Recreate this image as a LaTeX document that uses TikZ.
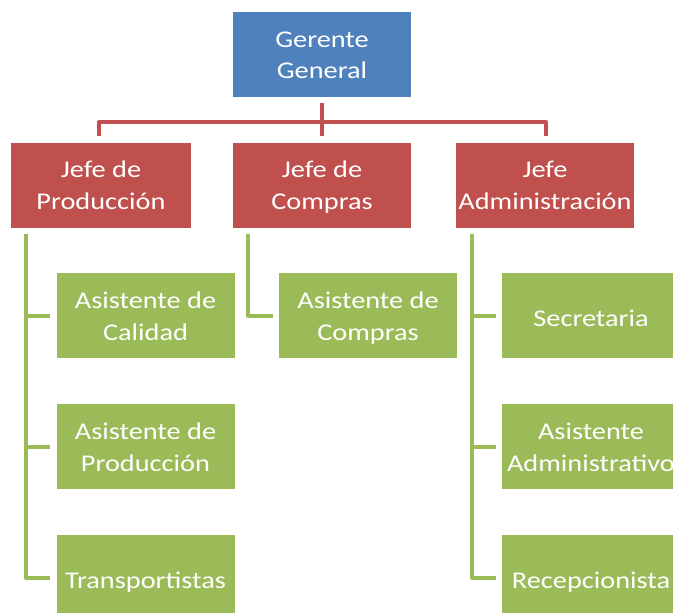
\documentclass[tikz,border=0pt]{standalone}
\usepackage{fontspec}
\setmainfont{Carlito}[FakeStretch=1.18]
\usetikzlibrary{calc}
\definecolor{bblue}{HTML}{4F81BD}
\definecolor{bred}{HTML}{C0504D}
\definecolor{bgreen}{HTML}{9BBB59}
\newcommand{\twoline}[2]{\begin{tabular}[t]{@{}c@{}}#1\\#2\end{tabular}}
\tikzset{
  box/.style={rectangle, inner sep=0pt, minimum width=178pt, minimum height=85pt,
    text=white, font=\fontsize{24}{32}\selectfont},
  twol/.style={text height=0pt, text depth=15pt},
  onel/.style={text height=21pt, text depth=0pt},
  bluebox/.style={box, fill=bblue},
  redbox/.style={box, fill=bred},
  greenbox/.style={box, fill=bgreen},
  rl/.style={draw=bred, line width=4pt, line join=round},
  gl/.style={draw=bgreen, line width=4pt, line join=round}
}
\begin{document}
\begin{tikzpicture}[x=1pt,y=-1pt]
\useasboundingbox (0,0) rectangle (673,613);
\clip (0,0) rectangle (673,613);
\fill[white] (0,0) rectangle (673,613);
% nodes
\node[bluebox, twol] (gg) at (322,54.5) {\twoline{Gerente}{General}};
\node[redbox, twol, minimum width=180pt] (jp) at (101,185) {\twoline{Jefe de}{Producción}};
\node[redbox, twol] (jc) at (322,185) {\twoline{Jefe de}{Compras}};
\node[redbox, twol] (ja) at (545,185) {\twoline{Jefe}{Administración}};
\node[greenbox, twol] (ac) at (145.5,315.5) {\twoline{Asistente de}{Calidad}};
\node[greenbox, twol] (ap) at (145.5,446.5) {\twoline{Asistente de}{Producción}};
\node[greenbox, onel] (tr) at (145.5,577.5) {Transportistas};
\node[greenbox, twol] (acm) at (368,315.5) {\twoline{Asistente de}{Compras}};
\node[greenbox, onel] (se) at (591,315.5) {Secretaria};
\node[greenbox, twol] (aa) at (591,446.5) {\twoline{Asistente}{Administrativo}};
\node[greenbox, onel] (re) at (591,577.5) {Recepcionista};
% red connectors
\draw[rl] ($(gg.south)+(0,6)$) -- ($(jc.north)+(0,-6)$);
\draw[rl] ($(jp.north)+(-2,-6)$) -- ($(jp.north)+(-2,-20)$) -- ($(ja.north)+(1,-20)$) -- ($(ja.north)+(1,-6)$);
% green connectors
\coordinate (lp) at ($(jp.south west)+(15,6)$);
\draw[gl] (lp) |- ($(tr.west)+(-6,0)$);
\draw[gl] (lp |- ac.west) -- ($(ac.west)+(-6,0)$);
\draw[gl] (lp |- ap.west) -- ($(ap.west)+(-6,0)$);
\coordinate (lc) at ($(jc.south west)+(15,6)$);
\draw[gl] (lc) |- ($(acm.west)+(-6,0)$);
\coordinate (la) at ($(ja.south west)+(16,6)$);
\draw[gl] (la) |- ($(re.west)+(-6,0)$);
\draw[gl] (la |- se.west) -- ($(se.west)+(-6,0)$);
\draw[gl] (la |- aa.west) -- ($(aa.west)+(-6,0)$);
\end{tikzpicture}
\end{document}
